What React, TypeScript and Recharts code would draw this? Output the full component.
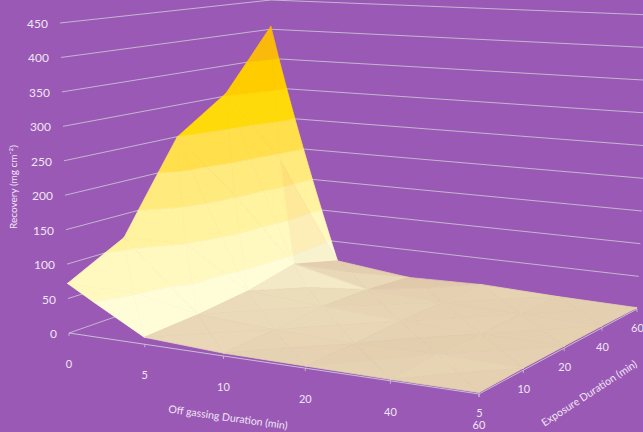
import { ScatterChart, Scatter, XAxis, YAxis } from 'recharts';

const WIDTH = 643;
const HEIGHT = 432;
const BACKGROUND = '#9B59B6';
const LABEL = '#EFE6F3';

const offGassing = ['0', '5', '10', '20', '40', '60'];
const exposure = ['5', '10', '20', '40', '60'];
const recoveryTicks = [0, 50, 100, 150, 200, 250, 300, 350, 400, 450];

// recovery per exposure step, one list for each off gassing duration
const recoveryAt0 = [72, 115, 250, 305, 405];
const recoveryAt5 = [10, 14, 22, 38, 18];
const recoveryAt10 = [4, 8, 14, 12, 5];
const recoveryAt20 = [3, 4, 7, 7, 8];
const recoveryAt40 = [2, 6, 4, 5, 4];
const recoveryAt60 = [2, 3, 3, 3, 2];
const recovery = [recoveryAt0, recoveryAt5, recoveryAt10, recoveryAt20, recoveryAt40, recoveryAt60];

// one colour for every 50 units of recovery, low to high
const bandColors = [
  [255, 253, 216],
  [255, 249, 192],
  [255, 243, 160],
  [255, 234, 125],
  [255, 224, 76],
  [255, 218, 10],
  [255, 204, 0],
  [250, 186, 12],
  [245, 175, 5],
];
const BAND = 50;
const Z_MAX = 450;

type P = [number, number];
type V = { s: number; t: number; z: number };

function quadMap(p: P[]) {
  const [[x0, y0], [x1, y1], [x2, y2], [x3, y3]] = p;
  const dx1 = x1 - x2;
  const dx2 = x3 - x2;
  const sx = x0 - x1 + x2 - x3;
  const dy1 = y1 - y2;
  const dy2 = y3 - y2;
  const sy = y0 - y1 + y2 - y3;
  const den = dx1 * dy2 - dx2 * dy1;
  const g = (sx * dy2 - dx2 * sy) / den;
  const h = (dx1 * sy - sx * dy1) / den;
  const a = x1 - x0 + g * x1;
  const b = x3 - x0 + h * x3;
  const d = y1 - y0 + g * y1;
  const e = y3 - y0 + h * y3;
  return (s: number, t: number): P => {
    const w = g * s + h * t + 1;
    return [(a * s + b * t + x0) / w, (d * s + e * t + y0) / w];
  };
}

// the floor and the plane at the top of the value axis
const floorAt = quadMap([[69, 333], [479, 394], [637, 309], [269, 263]]);
const topAt = quadMap([[60, 23], [489, 56], [652, 15], [271, 0]]);

function project(s: number, t: number, z: number): P {
  const a = floorAt(s, t);
  const b = topAt(s, t);
  const k = z / Z_MAX;
  return [a[0] + (b[0] - a[0]) * k, a[1] + (b[1] - a[1]) * k];
}

function clip(poly: V[], level: number, keepAbove: boolean) {
  const out: V[] = [];
  poly.forEach((a, i) => {
    const b = poly[(i + 1) % poly.length];
    const ain = keepAbove ? a.z >= level : a.z <= level;
    const bin = keepAbove ? b.z >= level : b.z <= level;
    if (ain) out.push(a);
    if (ain !== bin) {
      const k = (level - a.z) / (b.z - a.z);
      out.push({ s: a.s + (b.s - a.s) * k, t: a.t + (b.t - a.t) * k, z: level });
    }
  });
  return out;
}

// light comes from the viewer's side, flat facets stay dull
function shade(tri: V[]) {
  const w = (v: V) => [v.s * 1.4, v.t * 1.0, (v.z / Z_MAX) * 0.8];
  const [a, b, c] = tri.map(w);
  const u = [b[0] - a[0], b[1] - a[1], b[2] - a[2]];
  const v = [c[0] - a[0], c[1] - a[1], c[2] - a[2]];
  let n = [u[1] * v[2] - u[2] * v[1], u[2] * v[0] - u[0] * v[2], u[0] * v[1] - u[1] * v[0]];
  if (n[2] < 0) n = n.map((q) => -q);
  const len = Math.hypot(n[0], n[1], n[2]);
  const dot = (n[0] * 0.55 - n[1] * 0.45 + n[2] * 0.7) / len;
  const steep = 1 - n[2] / len;
  const lit = 0.84 + 0.9 * (dot - 0.7) + 0.12 * Math.min(steep, 0.5);
  return Math.min(1, Math.max(0.82, lit));
}

function tint(rgb: number[], f: number, band: number) {
  const pow = [band === 0 ? 0.65 : 0.25, 1.15, 1.2];
  const ch = rgb.map((c, i) => Math.min(255, Math.round(c * Math.pow(f, pow[i]))));
  return `rgb(${ch[0]},${ch[1]},${ch[2]})`;
}

// every grid cell is cut in four triangles round its mean, then in value bands
function buildFacets() {
  const facets: { x: number; y: number; pts: P[]; fill: string; order: number }[] = [];
  const ns = offGassing.length - 1;
  const nt = exposure.length - 1;
  for (let i = 0; i < ns; i++) {
    for (let j = 0; j < nt; j++) {
      const corner = (a: number, b: number): V => ({ s: a / ns, t: b / nt, z: recovery[a][b] });
      const c = [corner(i, j), corner(i + 1, j), corner(i + 1, j + 1), corner(i, j + 1)];
      const mid: V = {
        s: (i + 0.5) / ns,
        t: (j + 0.5) / nt,
        z: (c[0].z + c[1].z + c[2].z + c[3].z) / 4,
      };
      c.forEach((p, k) => {
        const tri = [p, c[(k + 1) % 4], mid];
        const f = shade(tri);
        bandColors.forEach((rgb, band) => {
          const lo = band * BAND;
          const part = clip(clip(tri, lo, true), lo + BAND, false);
          if (part.length < 3) return;
          const pts = part.map((v) => project(v.s, v.t, v.z));
          const cs = part.reduce((m, v) => m + v.s, 0) / part.length;
          const ct = part.reduce((m, v) => m + v.t, 0) / part.length;
          facets.push({ x: pts[0][0], y: pts[0][1], pts, fill: tint(rgb, f, band), order: cs - ct });
        });
      });
    }
  }
  return facets.sort((a, b) => a.order - b.order);
}

const Facet = (props: any) => {
  const { cx, cy, payload } = props;
  const pts = payload.pts
    .map((p: P) => `${cx + p[0] - payload.x},${cy + p[1] - payload.y}`)
    .join(' ');
  return <polygon points={pts} fill={payload.fill} stroke={payload.fill} strokeWidth={0.8} strokeLinejoin="round" />;
};

const Label = (props: any) => {
  const { cx, cy, payload } = props;
  return (
    <text
      x={cx}
      y={cy}
      fill={LABEL}
      fontFamily="Lato"
      fontSize={payload.size}
      textAnchor={payload.anchor}
      dominantBaseline="central"
      transform={payload.angle ? `rotate(${payload.angle} ${cx} ${cy})` : undefined}
    >
      {payload.text}
    </text>
  );
};

const Tick = (props: any) => (
  <line x1={props.cx} y1={props.cy} x2={props.cx} y2={props.cy + 3} stroke="#CFC6D6" strokeWidth={0.8} />
);

const NoMark = () => <g />;

const at = (s: number, t: number, z: number) => {
  const [x, y] = project(s, t, z);
  return { x, y };
};

const lastS = offGassing.length - 1;
const lastT = exposure.length - 1;

const gridLines = recoveryTicks.map((z) => [at(0, 0, z), at(0, 1, z), at(1, 1, z)]);
const frontAxis = [at(0, 0, 0), at(1, 0, 0), at(1, 1, 0)];
const axisTicks = [
  ...offGassing.map((_, i) => at(i / lastS, 0, 0)),
  ...exposure.map((_, j) => at(1, j / lastT, 0)),
];

const valueLabels = recoveryTicks.map((z) => {
  const p = at(0, 0, z);
  return { x: p.x - 12, y: p.y + 0.5, text: String(z), size: 12, anchor: 'end' };
});
const offGassingLabels = offGassing.map((text, i) => {
  const p = at(i / lastS, 0, 0);
  return { x: p.x, y: p.y + 30.5, text, size: 11, anchor: 'middle' };
});
const exposureLabels = exposure.map((text, j) => {
  const p = at(1, j / lastT, 0);
  return { x: p.x + 0.5, y: p.y + 18.5, text, size: 11, anchor: 'middle' };
});
const titles = [
  { x: 13, y: 187, text: 'Recovery (mg cm⁻²)', size: 10, anchor: 'middle', angle: -90 },
  { x: 228, y: 417, text: 'Off gassing Duration (min)', size: 10.5, anchor: 'middle', angle: 8 },
  { x: 589, y: 393, text: 'Exposure Duration (min)', size: 10.5, anchor: 'middle', angle: -33 },
];

export default function App() {
  return (
    <div style={{ position: 'fixed', left: 0, top: 0, width: WIDTH, height: HEIGHT, background: BACKGROUND, overflow: 'hidden' }}>
      <ScatterChart width={WIDTH} height={HEIGHT} margin={{ top: 0, right: 0, bottom: 0, left: 0 }}>
        <XAxis type="number" dataKey="x" domain={[0, WIDTH]} allowDataOverflow hide />
        <YAxis type="number" dataKey="y" domain={[0, HEIGHT]} allowDataOverflow reversed hide />
        {gridLines.map((line, i) => (
          <Scatter
            key={i}
            data={line}
            line={{ stroke: '#C9BFD2', strokeWidth: 0.9 }}
            shape={NoMark}
            isAnimationActive={false}
          />
        ))}
        <Scatter data={frontAxis} line={{ stroke: '#C9BFD2', strokeWidth: 1 }} shape={NoMark} isAnimationActive={false} />
        <Scatter data={axisTicks} shape={Tick} isAnimationActive={false} />
        <Scatter data={buildFacets()} shape={Facet} isAnimationActive={false} />
        <Scatter data={valueLabels} shape={Label} isAnimationActive={false} />
        <Scatter data={offGassingLabels} shape={Label} isAnimationActive={false} />
        <Scatter data={exposureLabels} shape={Label} isAnimationActive={false} />
        <Scatter data={titles} shape={Label} isAnimationActive={false} />
      </ScatterChart>
    </div>
  );
}
